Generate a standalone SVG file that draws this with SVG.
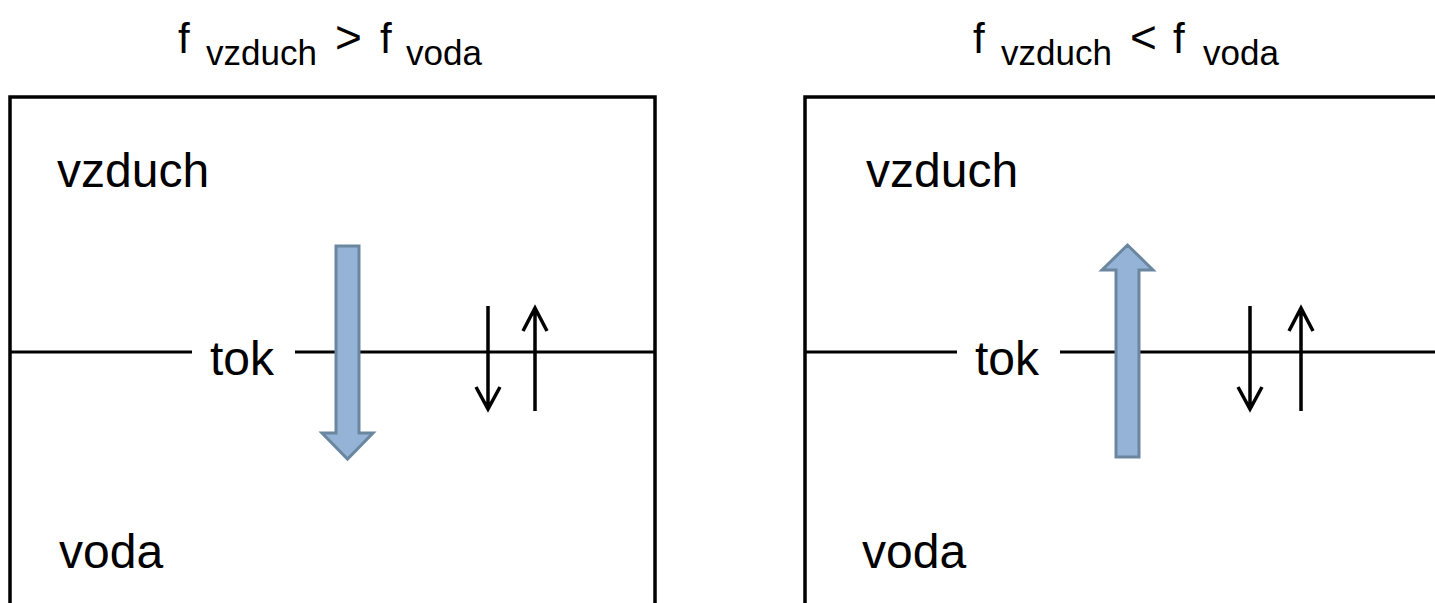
<svg xmlns="http://www.w3.org/2000/svg" width="1435" height="603" viewBox="0 0 1435 603">
<style>
.frame{fill:none;stroke:#000;stroke-width:3.5}
.surf{stroke:#000;stroke-width:3}
.t{font-family:"Liberation Sans",Arial,sans-serif;fill:#000}
.lbl{font-size:48px}
.ttl{font-size:42px}
.sub{font-size:35px}
.flow{fill:#95B3D7;stroke:#6A879F;stroke-width:3;stroke-linejoin:miter}
.small{fill:none;stroke:#000;stroke-width:3.5}
</style>
<rect width="1435" height="603" fill="#fff"/>
<g id="left-panel">
  <g id="left-frame"><path class="frame" d="M10,603 V97 H655 V603"/></g>
  <text id="left-title" class="t ttl" y="53"><tspan x="178">f</tspan><tspan class="sub" x="206" y="65">vzduch</tspan><tspan x="335" y="53" font-size="46">&gt;</tspan><tspan x="380">f</tspan><tspan class="sub" x="406" y="65">voda</tspan></text>
  <text id="left-air" class="t lbl" x="57" y="187">vzduch</text>
  <text id="left-water" class="t lbl" x="59" y="568">voda</text>
  <text id="left-tok" class="t lbl" x="210" y="375">tok</text>
</g>
<g id="right-panel">
  <g id="right-frame"><path class="frame" d="M805,603 V97 H1435"/></g>
  <text id="right-title" class="t ttl" y="53"><tspan x="973">f</tspan><tspan class="sub" x="1001" y="65">vzduch</tspan><tspan x="1130" y="53" font-size="46">&lt;</tspan><tspan x="1173">f</tspan><tspan class="sub" x="1203" y="65">voda</tspan></text>
  <text id="right-air" class="t lbl" x="866" y="187">vzduch</text>
  <text id="right-water" class="t lbl" x="862" y="568">voda</text>
  <text id="right-tok" class="t lbl" x="975" y="375">tok</text>
</g>
<g id="connectors">
  <line class="surf" x1="10" y1="352" x2="192" y2="352"/>
  <line class="surf" x1="295" y1="352" x2="655" y2="352"/>
  <line class="surf" x1="805" y1="352" x2="957" y2="352"/>
  <line class="surf" x1="1060" y1="352" x2="1435" y2="352"/>
  <path id="left-flow" class="flow" d="M336,246 H359 V433 H373 L347.5,459 L322,433 H336 Z"/>
  <path id="right-flow" class="flow" d="M1116,457 H1139 V270 H1153 L1127.5,245 L1102,270 H1116 Z"/>
  <path class="small" d="M488,306 V408 M476,387 L488,409 L500,387"/>
  <path class="small" d="M535,411 V309 M523,331 L535,308 L547,331"/>
  <path class="small" d="M1250,306 V408 M1238,387 L1250,409 L1262,387"/>
  <path class="small" d="M1301,411 V309 M1289,331 L1301,308 L1313,331"/>
</g>
</svg>
